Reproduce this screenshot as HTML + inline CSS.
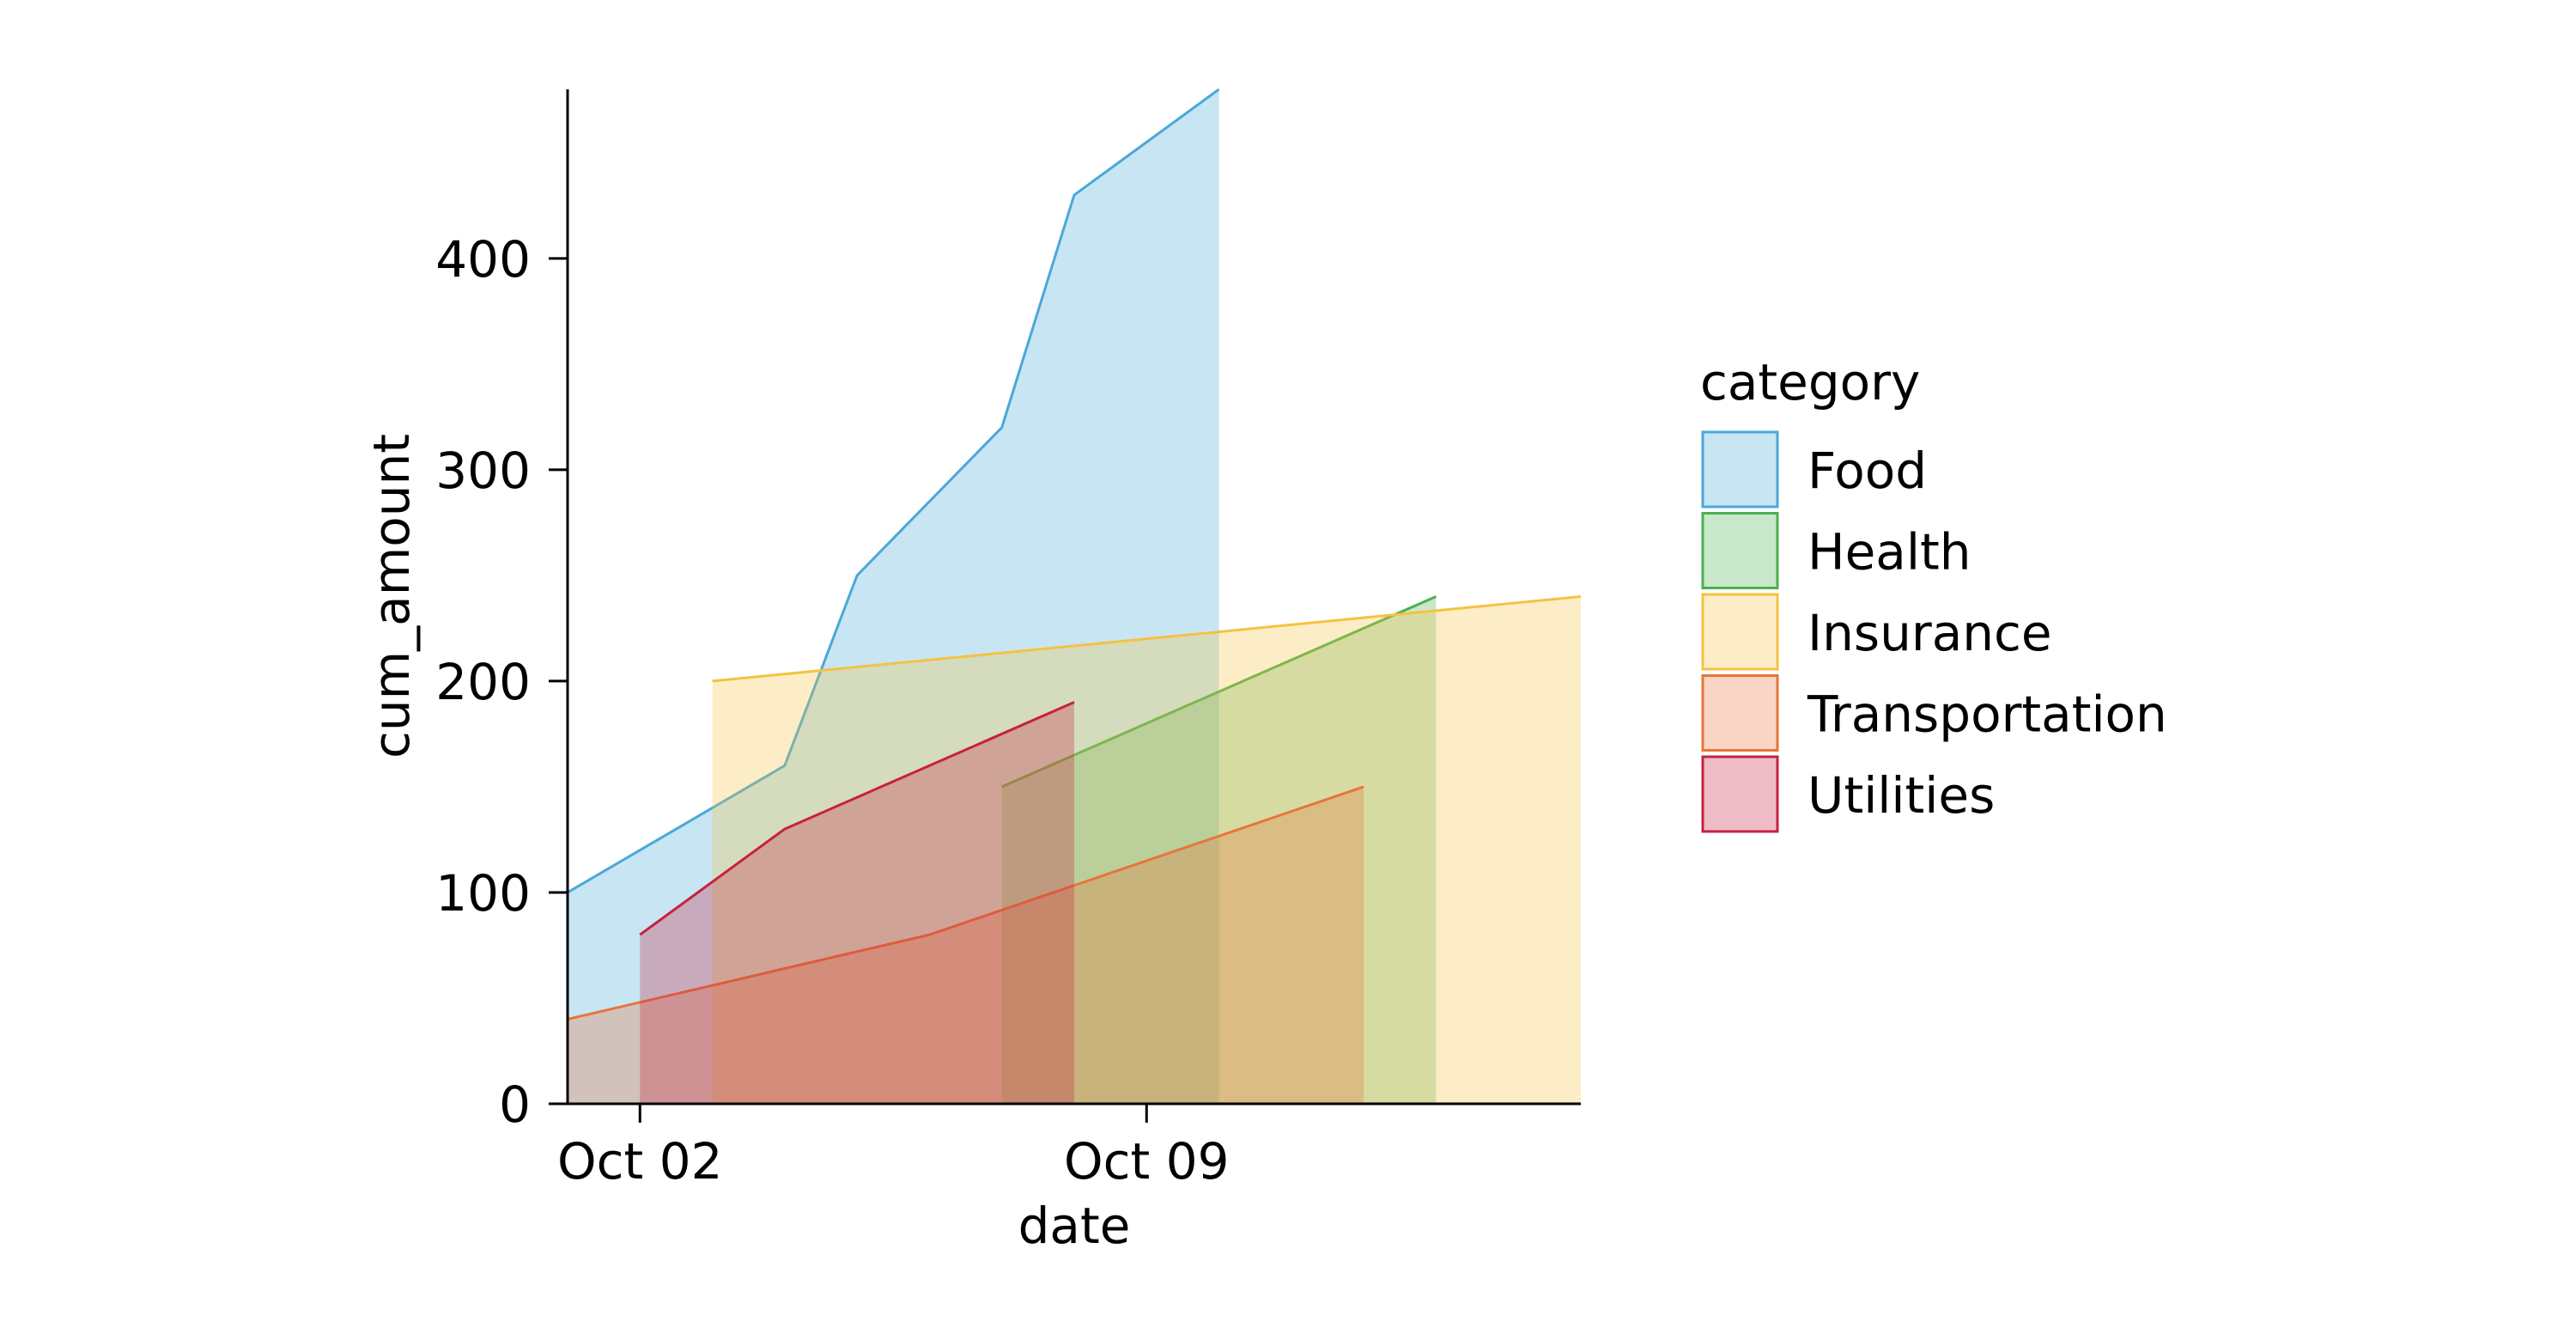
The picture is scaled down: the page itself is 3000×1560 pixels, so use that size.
<!DOCTYPE html>
<html><head><meta charset="utf-8"><style>
html,body{margin:0;padding:0;background:#fff;}
svg{display:block;font-family:"DejaVu Sans","Liberation Sans",sans-serif;}
</style></head><body>
<svg id="chart" width="3000" height="1560" viewBox="0 0 3000 1560" xmlns="http://www.w3.org/2000/svg">
<g id="areas"></g>
<g id="axes"></g>
<g id="legend"></g>
</svg>
<script>
// data: x as days since Oct 01
const categories = ["Food","Health","Insurance","Transportation","Utilities"];
const colors = ["#4aa8d8","#4caf50","#f5c242","#e8743b","#c8203f"];
const foodX = [0,3,4,6,7,9];
const foodY = [100,160,250,320,430,480];
const healthX = [6,12];
const healthY = [150,240];
const insuranceX = [2,14];
const insuranceY = [200,240];
const transportX = [0,5,11];
const transportY = [40,80,150];
const utilitiesX = [1,3,7];
const utilitiesY = [80,130,190];
const yTicks = [0,100,200,300,400];
const xTicks = [1,8];
const xTickLabels = ["Oct 02","Oct 09"];

const L=661,R=1841,T=104,B=1285;
const xMin=0,xMax=14,yMin=0,yMax=480;
const xs=d=>L+(d-xMin)/(xMax-xMin)*(R-L);
const ys=v=>B-(v-yMin)/(yMax-yMin)*(B-T);
const NS="http://www.w3.org/2000/svg";
const FS=58;
function mk(tag,attrs,parent){const e=document.createElementNS(NS,tag);for(const k in attrs)e.setAttribute(k,attrs[k]);parent.appendChild(e);return e;}

const series=[[foodX,foodY],[healthX,healthY],[insuranceX,insuranceY],[transportX,transportY],[utilitiesX,utilitiesY]];
const areas=document.getElementById('areas');
series.forEach((s,i)=>{
  const [X,Y]=s;
  let pts=X.map((x,j)=>xs(x)+','+ys(Y[j]));
  const poly=[xs(X[0])+','+ys(0),...pts,xs(X[X.length-1])+','+ys(0)].join(' ');
  const a=mk('polygon',{points:poly,fill:colors[i],'fill-opacity':0.3,stroke:'none'},areas);
  
  
  const l=mk('polyline',{points:pts.join(' '),fill:'none',stroke:colors[i],'stroke-width':3},areas);
  
  
});

const axes=document.getElementById('axes');
let e=mk('line',{x1:L,y1:T,x2:L,y2:B+1,stroke:'#000','stroke-width':3},axes);


e=mk('line',{x1:L-1,y1:B,x2:R,y2:B,stroke:'#000','stroke-width':3},axes);


yTicks.forEach(v=>{
  const y=ys(v);
  mk('line',{x1:L-22,y1:y,x2:L,y2:y,stroke:'#000','stroke-width':3},axes);
  const t=mk('text',{x:L-43,y:y+21,'text-anchor':'end','font-size':FS,fill:'#000'},axes);
  t.textContent=v;
  
  
});
xTicks.forEach((d,i)=>{
  const x=xs(d);
  mk('line',{x1:x,y1:B,x2:x,y2:B+22,stroke:'#000','stroke-width':3},axes);
  const t=mk('text',{x:x,y:1372,'text-anchor':'middle','font-size':FS,fill:'#000'},axes);
  t.textContent=xTickLabels[i];
  
  
});
e=mk('text',{x:1251,y:1447,'text-anchor':'middle','font-size':FS,fill:'#000'},axes);
e.textContent='date';


e=mk('text',{x:0,y:0,'text-anchor':'middle','font-size':FS,fill:'#000',transform:'translate(476,694) rotate(-90)'},axes);
e.textContent='cum_amount';



const lg=document.getElementById('legend');
e=mk('text',{x:1980,y:465,'font-size':FS,fill:'#000'},lg);
e.textContent='category';


categories.forEach((c,i)=>{
  const y=503+i*94.5;
  const g=mk('g',{},lg);
  
  
  mk('rect',{x:1983,y:y,width:87,height:87,fill:colors[i],'fill-opacity':0.3,stroke:colors[i],'stroke-width':3},g);
  const t=mk('text',{x:2105,y:y+65,'font-size':FS,fill:'#000'},g);
  t.textContent=c;
});
</script>
</body></html>
